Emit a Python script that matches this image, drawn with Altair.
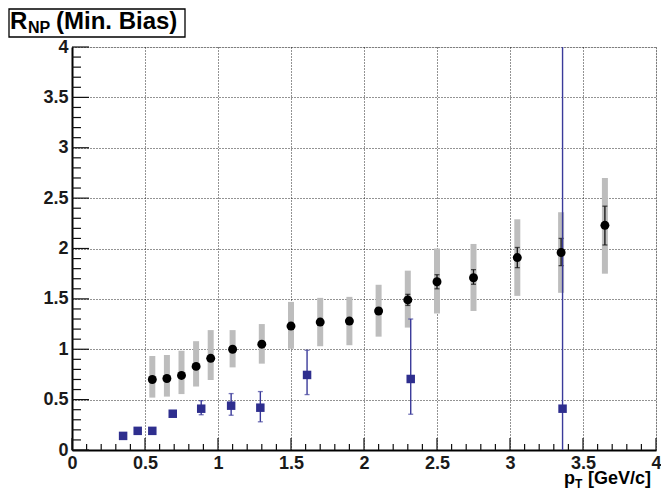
import altair as alt
import pandas as pd

# ---- data ----
black_x = [0.55, 0.65, 0.75, 0.85, 0.95, 1.10, 1.30, 1.50, 1.70, 1.90, 2.10, 2.30, 2.50, 2.75, 3.05, 3.35, 3.65]
black_y = [0.70, 0.71, 0.74, 0.83, 0.91, 1.00, 1.05, 1.23, 1.27, 1.28, 1.38, 1.49, 1.67, 1.71, 1.91, 1.96, 2.23]
black_stat_lo = [0.68, 0.69, 0.72, 0.81, 0.89, 0.98, 1.03, 1.20, 1.24, 1.25, 1.35, 1.435, 1.60, 1.645, 1.81, 1.83, 2.035]
black_stat_hi = [0.72, 0.73, 0.76, 0.85, 0.93, 1.02, 1.07, 1.26, 1.30, 1.31, 1.41, 1.545, 1.74, 1.79, 2.01, 2.10, 2.42]
black_sys_lo = [0.52, 0.53, 0.555, 0.63, 0.695, 0.82, 0.857, 1.005, 1.03, 1.04, 1.125, 1.215, 1.355, 1.38, 1.53, 1.56, 1.75]
black_sys_hi = [0.933, 0.943, 0.985, 1.08, 1.19, 1.19, 1.25, 1.47, 1.51, 1.52, 1.64, 1.78, 2.00, 2.045, 2.29, 2.36, 2.70]

blue_x = [0.35, 0.45, 0.55, 0.69, 0.885, 1.09, 1.29, 1.61, 2.32, 3.36]
blue_y = [0.14, 0.19, 0.19, 0.36, 0.41, 0.44, 0.42, 0.745, 0.705, 0.41]
blue_lo = [0.13, 0.18, 0.18, 0.34, 0.35, 0.345, 0.28, 0.55, 0.355, -0.6]
blue_hi = [0.15, 0.20, 0.20, 0.38, 0.49, 0.56, 0.58, 0.99, 1.30, 4.6]

tick_major = [0.0, 0.5, 1.0, 1.5, 2.0, 2.5, 3.0, 3.5, 4.0]
tick_minor = [0.1, 0.2, 0.3, 0.4, 0.6, 0.7, 0.8, 0.9, 1.1, 1.2, 1.3, 1.4,
              1.6, 1.7, 1.8, 1.9, 2.1, 2.2, 2.3, 2.4, 2.6, 2.7, 2.8, 2.9,
              3.1, 3.2, 3.3, 3.4, 3.6, 3.7, 3.8, 3.9]

title_main = ["R"]
title_sub = ["NP"]
title_rest = ["(Min. Bias)"]
xtitle_main = ["p"]
xtitle_sub = ["T"]
xtitle_rest = ["[GeV/c]"]

FONT = "Liberation Sans"
W, H = 584, 403
BLUE = "#2e2e8e"
BLUE_ERR = "#3a3a9a"
GRAY = "#bdbdbd"

black = pd.DataFrame({"x": black_x, "y": black_y, "slo": black_stat_lo, "shi": black_stat_hi,
                      "ylo": black_sys_lo, "yhi": black_sys_hi})
blue = pd.DataFrame({"x": blue_x, "y": blue_y, "lo": blue_lo, "hi": blue_hi})
major = pd.DataFrame({"v": tick_major})
minor = pd.DataFrame({"v": tick_minor})

xs = alt.Scale(domain=[0, 4], nice=False, zero=False)
ys = alt.Scale(domain=[0, 4], nice=False, zero=False)

axis_common = dict(values=tick_major, grid=True, gridDash=[1, 2], gridColor="#000000",
                   gridOpacity=0.85, gridWidth=1, ticks=False, tickSize=0,
                   domainColor="#000000", domainWidth=2, labelFont=FONT,
                   labelFontWeight="bold", labelFontSize=18, labelColor="#1a1a1a",
                   labelFlush=False, labelOverlap=False, format="~g", title=None)

xaxis = alt.Axis(labelPadding=4, **axis_common)
yaxis = alt.Axis(labelPadding=4, **axis_common)

base_black = alt.Chart(black)
base_blue = alt.Chart(blue)

sys_bars = base_black.mark_rule(strokeWidth=6, color=GRAY, strokeCap="butt").encode(
    x=alt.X("x:Q", scale=xs, axis=xaxis),
    y=alt.Y("ylo:Q", scale=ys, axis=yaxis),
    y2="yhi:Q",
)

stat_bars = base_black.mark_rule(strokeWidth=1.3, color="#111111").encode(
    x=alt.X("x:Q", scale=xs), y=alt.Y("slo:Q", scale=ys), y2="shi:Q")
stat_cap_lo = base_black.mark_tick(orient="horizontal", size=5, thickness=1.3, color="#111111").encode(
    x=alt.X("x:Q", scale=xs), y=alt.Y("slo:Q", scale=ys))
stat_cap_hi = base_black.mark_tick(orient="horizontal", size=5, thickness=1.3, color="#111111").encode(
    x=alt.X("x:Q", scale=xs), y=alt.Y("shi:Q", scale=ys))

blue_bars = base_blue.mark_rule(strokeWidth=1.4, color=BLUE_ERR, clip=True).encode(
    x=alt.X("x:Q", scale=xs), y=alt.Y("lo:Q", scale=ys), y2="hi:Q")
blue_cap_lo = base_blue.mark_tick(orient="horizontal", size=5, thickness=1.3, color=BLUE_ERR, clip=True).encode(
    x=alt.X("x:Q", scale=xs), y=alt.Y("lo:Q", scale=ys))
blue_cap_hi = base_blue.mark_tick(orient="horizontal", size=5, thickness=1.3, color=BLUE_ERR, clip=True).encode(
    x=alt.X("x:Q", scale=xs), y=alt.Y("hi:Q", scale=ys))

black_pts = base_black.mark_circle(size=80, color="#000000", opacity=1).encode(
    x=alt.X("x:Q", scale=xs), y=alt.Y("y:Q", scale=ys))
blue_pts = base_blue.mark_square(size=72, color=BLUE, opacity=1).encode(
    x=alt.X("x:Q", scale=xs), y=alt.Y("y:Q", scale=ys))

# inside ticks (ROOT style)
x_major_ticks = alt.Chart(major).mark_rule(color="#111111", strokeWidth=1.2).encode(
    x=alt.X("v:Q", scale=xs), y=alt.value(H), y2=alt.value(H - 12))
x_minor_ticks = alt.Chart(minor).mark_rule(color="#111111", strokeWidth=1.2).encode(
    x=alt.X("v:Q", scale=xs), y=alt.value(H), y2=alt.value(H - 6))
y_major_ticks = alt.Chart(major).mark_rule(color="#111111", strokeWidth=1.2).encode(
    y=alt.Y("v:Q", scale=ys), x=alt.value(0), x2=alt.value(17))
y_minor_ticks = alt.Chart(minor).mark_rule(color="#111111", strokeWidth=1.2).encode(
    y=alt.Y("v:Q", scale=ys), x=alt.value(0), x2=alt.value(9))

# title box
box = alt.Chart(pd.DataFrame({"k": [0]})).mark_rect(
    fill="white", stroke="#000000", strokeWidth=1.3).encode(
    x=alt.value(-63), x2=alt.value(113), y=alt.value(-38), y2=alt.value(-10))


def label(txt, x, y, size):
    return alt.Chart(pd.DataFrame({"t": txt})).mark_text(
        font=FONT, fontWeight="bold", fontSize=size, align="left",
        baseline="alphabetic", color="#000000").encode(
        text="t:N", x=alt.value(x), y=alt.value(y))


t1 = label(title_main, -62, -18, 24)
t2 = label(title_sub, -44, -14, 16)
t3 = label(title_rest, -16, -18, 24)

xt1 = label(xtitle_main, W - 92, 437, 18)
xt2 = label(xtitle_sub, W - 81, 441, 12)
xt3 = label(xtitle_rest, W - 68, 437, 18)

chart = alt.layer(
    sys_bars, stat_bars, stat_cap_lo, stat_cap_hi,
    blue_bars, blue_cap_lo, blue_cap_hi,
    x_major_ticks, x_minor_ticks, y_major_ticks, y_minor_ticks,
    black_pts, blue_pts,
    box, t1, t2, t3, xt1, xt2, xt3,
).properties(
    width=W, height=H,
    autosize=alt.AutoSizeParams(type="none"),
    padding={"left": 64, "top": 39, "right": 5, "bottom": 40},
).configure_view(
    stroke="#333333", strokeWidth=1
).configure(background="white")

chart.save("out.html", embed_options={"renderer": "svg", "actions": False})
